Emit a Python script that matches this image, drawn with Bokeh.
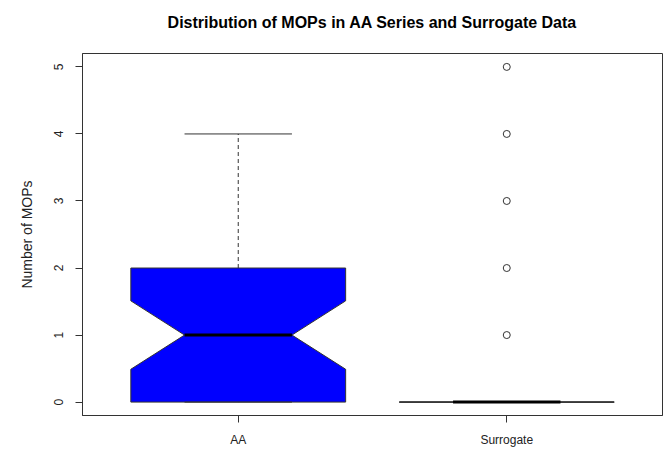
from bokeh.plotting import figure
from bokeh.models import Range1d, FixedTicker, Title
from bokeh.embed import file_html
from bokeh.resources import INLINE

# ---- data ----
groups = ["AA", "Surrogate"]
positions = [1, 2]
lower_whisker = [0, 0]
q1 = [0, 0]
median = [1, 0]
q3 = [2, 0]
upper_whisker = [4, 0]
notch_low = [0.49, 0]
notch_high = [1.51, 0]
box_fill = ["#0000FF", "#FFFFFF"]
outlier_pos = [2, 2, 2, 2, 2]
outlier_values = [1, 2, 3, 4, 5]
y_ticks = [0, 1, 2, 3, 4, 5]
title_text = "Distribution of MOPs in AA Series and Surrogate Data"

BOX_HALF = 0.4
NOTCH_HALF = 0.2
FONT = "Liberation Sans"
EDGE = "#333333"

p = figure(width=665, height=449, output_backend="svg", toolbar_location=None,
           x_range=Range1d(0.42, 2.58), y_range=Range1d(-0.2, 5.2),
           min_border_left=82, min_border_right=3, min_border_top=53,
           min_border_bottom=33)

# notched boxes
xs, ys = [], []
for x, a, nl, m, nh, b in zip(positions, q1, notch_low, median, notch_high, q3):
    w, nw = BOX_HALF, NOTCH_HALF
    xs.append([x - w, x - w, x - nw, x - w, x - w, x + w, x + w, x + nw, x + w, x + w])
    ys.append([a, nl, m, nh, b, b, nh, m, nl, a])
p.patches(xs=xs, ys=ys, fill_color=box_fill, line_color=EDGE, line_width=1)

# whiskers (dashed)
p.segment(x0=positions, y0=q3, x1=positions, y1=upper_whisker,
          line_color=EDGE, line_width=1, line_dash="4 3")
p.segment(x0=positions, y0=q1, x1=positions, y1=lower_whisker,
          line_color=EDGE, line_width=1, line_dash="4 3")
# caps
p.segment(x0=[x - NOTCH_HALF for x in positions], y0=upper_whisker,
          x1=[x + NOTCH_HALF for x in positions], y1=upper_whisker,
          line_color=EDGE, line_width=1)
p.segment(x0=[x - NOTCH_HALF for x in positions], y0=lower_whisker,
          x1=[x + NOTCH_HALF for x in positions], y1=lower_whisker,
          line_color=EDGE, line_width=1)
# medians
p.segment(x0=[x - NOTCH_HALF for x in positions], y0=median,
          x1=[x + NOTCH_HALF for x in positions], y1=median,
          line_color="black", line_width=3)

# outliers
p.scatter(x=outlier_pos, y=outlier_values, marker="circle", size=7,
          fill_color="white", line_color=EDGE, line_width=1)

# spacer between the plot frame and the title
p.add_layout(Title(text=" ", text_font_size="1px", standoff=18), "above")

# title
p.title.text = title_text
p.title.align = "center"
p.title.vertical_align = "top"
p.title.text_font = FONT
p.title.text_font_size = "16px"
p.title.text_font_style = "bold"
p.title.text_color = "black"
p.title.standoff = 0

# grid / outline
p.xgrid.visible = False
p.ygrid.visible = False
p.outline_line_color = EDGE
p.outline_line_width = 1
p.background_fill_color = "white"
p.border_fill_color = "white"

# axes
for ax in (p.xaxis[0], p.yaxis[0]):
    ax.axis_line_color = EDGE
    ax.major_tick_line_color = EDGE
    ax.major_tick_in = 0
    ax.major_tick_out = 7
    ax.minor_tick_line_color = None
    ax.major_label_text_font = FONT
    ax.major_label_text_font_size = "12px"
    ax.major_label_text_color = "#222222"

p.xaxis.ticker = FixedTicker(ticks=positions)
p.xaxis.major_label_overrides = {pos: g for pos, g in zip(positions, groups)}
p.xaxis.major_label_standoff = 10

p.yaxis.ticker = FixedTicker(ticks=y_ticks)
p.yaxis.major_label_orientation = "vertical"
p.yaxis.major_label_standoff = 12
p.yaxis.axis_label = "Number of MOPs"
p.yaxis.axis_label_text_font = FONT
p.yaxis.axis_label_text_font_size = "14px"
p.yaxis.axis_label_text_font_style = "normal"
p.yaxis.axis_label_text_color = "#222222"
p.yaxis.axis_label_standoff = 17

open("out.html", "w").write(file_html(p, INLINE))
